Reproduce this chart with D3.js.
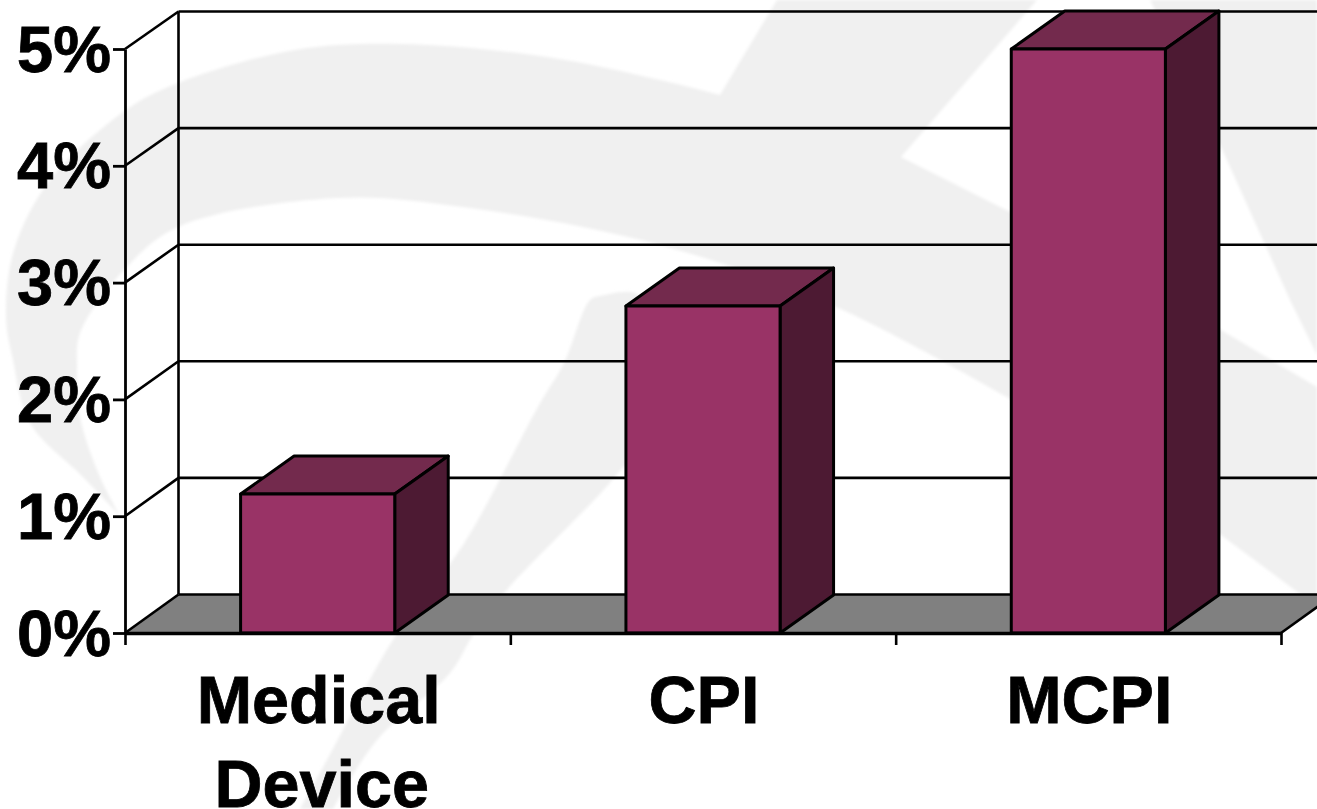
<!DOCTYPE html>
<html lang="en">
<head>
  <meta charset="UTF-8">
  <title>Medical Device, CPI, MCPI</title>
  <style>
    * { margin: 0; padding: 0; box-sizing: border-box; }
    html, body { width: 1317px; height: 809px; overflow: hidden; background: #fff; }
    svg { display: block; }
    text { font-family: "Liberation Sans", Arial, sans-serif; font-weight: bold; fill: #000; stroke: #000; stroke-width: 0.8px; }
    .y-axis text { font-size: 65px; }
    .cat-label { font-size: 66.5px; }
  </style>
</head>
<body>
  <div id="chart"></div>

  <script src="https://d3js.org/d3.v7.min.js"></script>
  <script>
    // Chart values
    const categories = ["Medical Device", "CPI", "MCPI"];
    const values = [1.19, 2.8, 5];
    const yTicks = [0, 1, 2, 3, 4, 5];

    const width = 1317;
    const height = 809;
    const left = 125, right = 1281, baseY = 633, topY = 49;
    const depthX = 53.5, depthY = 38;

    const frontColor = "#993366", topColor = "#732a4d", sideColor = "#4d1a33";
    const markColor = "#f0f0f0";

    // Faint logo behind the plot
    const outerArc = [[120, 516], [83, 477], [30, 423], [13, 360], [6, 317], [14, 250], [50, 180], [126, 110], [178, 83], [295, 50], [400, 44], [547, 57], [660, 80], [720, 95]];
    const innerArc = [[1012, 400], [836, 307], [660, 245], [463, 207], [337, 198], [178, 227], [124, 270], [80, 333], [77, 367], [80, 417], [100, 477], [120, 516]];
    const streak = [[1037, 0], [901, 157], [1012, 213], [1221, 330], [1317, 387], [1317, 355], [1290, 300], [1221, 147], [1150, 0]];
    const swoosh = [[300, 809], [328, 758], [396, 635], [463, 545], [539, 405], [564, 363], [590, 300], [600, 296], [640, 296], [640, 440], [614, 478], [505, 592], [472, 637], [450, 673], [377, 740], [333, 809]];

    const y = d3.scaleLinear().domain([0, 5]).range([baseY, topY]);
    // the back wall sits slightly tighter than the front axis
    const yBack = d3.scaleLinear().domain([0, 5]).range([594.5, 11.5]);
    const xEdges = d3.scaleLinear().domain([0, categories.length]).range([left, right]);
    const x = d3.scaleBand().domain(categories).range([left, right])
      .paddingInner(0.6).paddingOuter(0.3);

    const svg = d3.select("#chart").append("svg")
      .attr("width", width)
      .attr("height", height);

    svg.append("defs").append("filter").attr("id", "soft")
      .append("feGaussianBlur").attr("stdDeviation", 1.5);

    // Background logo
    const smooth = d3.line().curve(d3.curveCatmullRom);
    const logo = svg.append("g").attr("filter", "url(#soft)");
    logo.append("path")
      .attr("fill", markColor)
      .attr("d", smooth(outerArc) + "L777,0L1317,0L1317,608L1300,594L1221,535L" + smooth(innerArc).slice(1) + "Z");
    logo.append("path").attr("fill", "#fff").attr("d", d3.line()(streak) + "Z");
    logo.append("path").attr("fill", markColor).attr("d", smooth(swoosh) + "Z");

    // Floor of the 3D box
    svg.append("polygon")
      .attr("fill", "#808080")
      .attr("points", [[left, baseY], [left + depthX, yBack(0)], [right + depthX, yBack(0)], [right, baseY]].join(" "));

    const walls = svg.append("g").attr("stroke", "#000").attr("stroke-width", 2.6).attr("fill", "none");

    // Back wall gridlines and their slants on the side wall
    walls.selectAll(".grid")
      .data(yTicks)
      .join("line")
      .attr("x1", left + depthX)
      .attr("x2", width + 10)
      .attr("y1", d => yBack(d))
      .attr("y2", d => yBack(d));

    walls.selectAll(".slant")
      .data(yTicks)
      .join("line")
      .attr("x1", left)
      .attr("x2", left + depthX)
      .attr("y1", d => y(d))
      .attr("y2", d => yBack(d));

    walls.append("line")
      .attr("x1", left + depthX)
      .attr("x2", left + depthX)
      .attr("y1", yBack(5))
      .attr("y2", yBack(0));

    walls.append("line")
      .attr("x1", right)
      .attr("x2", right + depthX)
      .attr("y1", baseY)
      .attr("y2", yBack(0));

    // Bars: top, side, then front face
    const bars = svg.append("g")
      .attr("stroke", "#000")
      .attr("stroke-width", 3)
      .attr("stroke-linejoin", "round")
      .selectAll("g")
      .data(categories.map((c, i) => ({ category: c, value: values[i] })))
      .join("g");

    bars.append("polygon")
      .attr("fill", topColor)
      .attr("points", d => {
        const x0 = x(d.category), x1 = x0 + x.bandwidth(), t = y(d.value);
        return [[x0, t], [x0 + depthX, t - depthY], [x1 + depthX, t - depthY], [x1, t]].join(" ");
      });

    bars.append("polygon")
      .attr("fill", sideColor)
      .attr("points", d => {
        const x1 = x(d.category) + x.bandwidth(), t = y(d.value);
        return [[x1, t], [x1 + depthX, t - depthY], [x1 + depthX, baseY - depthY], [x1, baseY]].join(" ");
      });

    bars.append("rect")
      .attr("fill", frontColor)
      .attr("x", d => x(d.category))
      .attr("y", d => y(d.value))
      .attr("width", x.bandwidth())
      .attr("height", d => baseY - y(d.value));

    // Axes
    const yAxis = svg.append("g")
      .attr("class", "y-axis")
      .attr("transform", `translate(${left},0)`)
      .call(d3.axisLeft(y).tickValues(yTicks).tickSize(12).tickSizeOuter(0).tickPadding(2).tickFormat(d => d + "%"));
    yAxis.selectAll("path, line").attr("stroke", "#000").attr("stroke-width", 2.8);
    yAxis.selectAll("text").attr("dy", null).attr("y", 22);

    const xAxis = svg.append("g")
      .attr("transform", `translate(0,${baseY})`)
      .call(d3.axisBottom(xEdges).tickValues(d3.range(categories.length + 1)).tickSize(12).tickSizeOuter(0).tickFormat(""));
    xAxis.select("path").attr("stroke", "#000").attr("stroke-width", 3.5);
    xAxis.selectAll("line").attr("stroke", "#000").attr("stroke-width", 2.6);

    // Category labels, wrapped by word
    svg.append("g").selectAll("text")
      .data(categories)
      .join("text")
      .attr("class", "cat-label")
      .attr("text-anchor", "middle")
      .attr("y", 723)
      .each(function (d) {
        d3.select(this).selectAll("tspan")
          .data(d.split(" "))
          .join("tspan")
          .attr("x", (w, i) => x(d) + x.bandwidth() / 2 + (i ? 4 : 1))
          .attr("dy", (w, i) => i ? 84 : 0)
          .text(w => w);
      });
  </script>
</body>
</html>
